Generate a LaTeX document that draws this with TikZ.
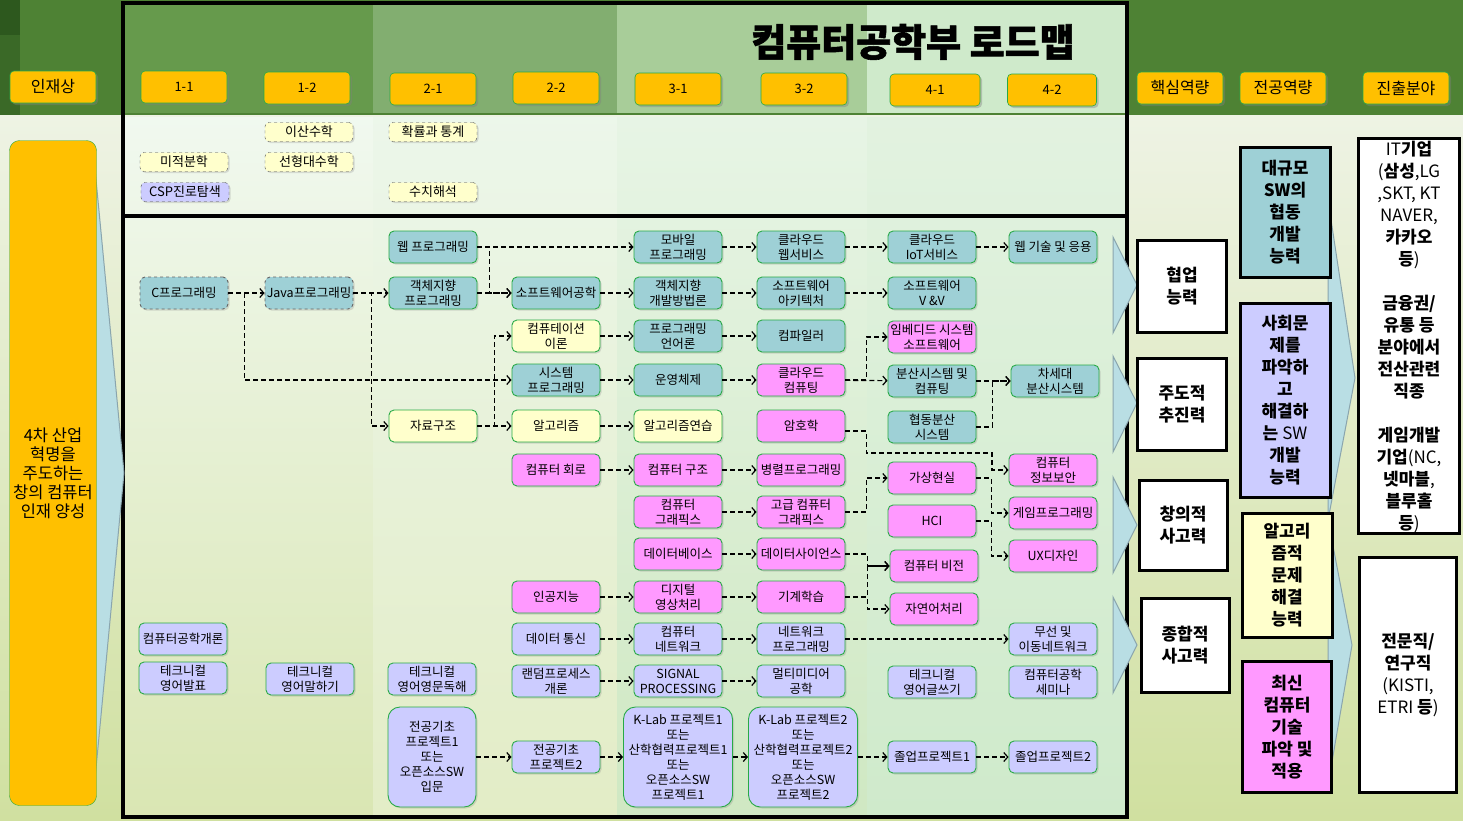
\documentclass[tikz,border=0pt]{standalone}
\usepackage{fontspec}
\setmainfont{Noto Sans CJK KR}
\newfontfamily\heavyfont{Noto Sans CJK KR}[BoldFeatures={FakeBold=1.5}]
\usepackage{xcolor}
\definecolor{hdrgreen}{RGB}{78,130,52}
\definecolor{hdrdark}{RGB}{45,88,30}
\definecolor{yrone}{RGB}{102,154,76}
\definecolor{yrtwo}{RGB}{130,174,112}
\definecolor{yrthree}{RGB}{168,205,153}
\definecolor{yrfour}{RGB}{207,234,203}
\definecolor{bodytop}{RGB}{238,243,228}
\definecolor{bodybot}{RGB}{208,224,160}
\definecolor{labelorange}{RGB}{255,192,0}
\definecolor{boxgreen}{RGB}{40,170,70}
\definecolor{crsteal}{RGB}{158,208,214}
\definecolor{crspink}{RGB}{255,153,255}
\definecolor{crslav}{RGB}{204,204,255}
\definecolor{crsyellow}{RGB}{255,255,204}
\definecolor{chevblue}{RGB}{185,222,228}
\definecolor{chevedge}{RGB}{138,165,173}
\usepackage{tikz}
\usetikzlibrary{arrows.meta, positioning, shadows}
\newcommand{\bk}[1]{{\bfseries #1}}

\begin{document}
\begin{tikzpicture}[x=1pt, y=-1pt,
    hdr/.style={fill=labelorange, draw=boxgreen, line width=0.6pt, rounded corners=4pt,
        minimum width=86pt, minimum height=32pt, font=\fontsize{13}{14}\selectfont,
        drop shadow={opacity=0.4, shadow xshift=2pt, shadow yshift=-2pt}},
    hdrbig/.style={hdr, font=\fontsize{16}{18}\selectfont},
    crs/.style={draw=boxgreen, line width=0.9pt, rounded corners=5pt, minimum width=88pt,
        minimum height=32pt, inner sep=0.5pt, align=center, font=\fontsize{12.5}{15}\selectfont,
        drop shadow={opacity=0.25, shadow xshift=1.5pt, shadow yshift=-1.5pt}},
    tealcrs/.style={crs, fill=crsteal},
    pinkcrs/.style={crs, fill=crspink},
    lavcrs/.style={crs, fill=crslav},
    yelcrs/.style={crs, fill=crsyellow},
    dashcrs/.style={tealcrs, draw=black!60, dashed},
    tallcrs/.style={lavcrs, minimum height=100pt, rounded corners=12pt},
    mathcrs/.style={draw=black!70, dashed, fill=crsyellow, rounded corners=4pt, minimum width=88pt,
        minimum height=19pt, inner sep=1pt, font=\fontsize{13}{14}\selectfont,
        drop shadow={opacity=0.25, shadow xshift=1.5pt, shadow yshift=-1.5pt}},
    capbox/.style={draw=black, line width=3pt, align=center, inner sep=0pt,
        font=\fontsize{17}{22}\selectfont\bfseries},
    chev/.style={fill=chevblue, draw=chevedge, line width=1pt},
    link/.style={draw=black, line width=1.2pt, dash pattern=on 5pt off 3pt,
        -{Straight Barb[length=4pt, width=9pt, line width=1.2pt]}}]
    \useasboundingbox (0,0) rectangle (1463,820);

    % background
    \fill[hdrgreen] (0,0) rectangle (1463,115);
    \fill[hdrdark] (0,0) rectangle (20,35);
    \fill[hdrdark!60!hdrgreen] (0,35) rectangle (20,115);
    \shade[top color=bodytop, bottom color=bodybot] (0,115) rectangle (1463,820);
    \fill[yrone] (123,3) rectangle (373,113);
    \fill[yrtwo] (373,3) rectangle (617,113);
    \fill[yrthree] (617,3) rectangle (867,113);
    \fill[yrfour] (867,3) rectangle (1127,113);
    \shade[top color=yrfour!30!white, bottom color=bodybot!80!white] (123,117) rectangle (373,817);
    \shade[top color=yrfour!40!white, bottom color=bodybot!60!white] (373,117) rectangle (617,817);
    \shade[top color=yrfour!50!white, bottom color=yrfour!80!bodybot] (617,117) rectangle (867,817);
    \shade[top color=yrfour!60!white, bottom color=yrfour] (867,117) rectangle (1127,817);

    % frame
    \draw[line width=3.2pt] (123,3) rectangle (1127,817);
    \draw[line width=3.2pt] (123,216) -- (1127,216);

    % chevrons
    \draw[chev] (93,148) -- (124,473) -- (93,800) -- cycle;
    \draw[chev] (1113,237) -- (1137,285) -- (1113,333) -- cycle;
    \draw[chev] (1113,356) -- (1137,403) -- (1113,452) -- cycle;
    \draw[chev] (1113,477) -- (1137,525) -- (1113,573) -- cycle;
    \draw[chev] (1113,597) -- (1137,645) -- (1113,693) -- cycle;
    \draw[chev] (1328,200) -- (1355,378) -- (1328,520) -- cycle;
    \draw[chev] (1328,520) -- (1352,645) -- (1328,785) -- cycle;

    % title and header labels
    \node[font=\fontsize{38}{42}\heavyfont\bfseries] (title) at (913,42) {컴퓨터공학부 로드맵};
    \node[hdrbig] (talent) at (53,87) {인재상};
    \node[hdr] (y11) at (184,87) {1-1};
    \node[hdr] (y12) at (307,88) {1-2};
    \node[hdr] (y21) at (433,89) {2-1};
    \node[hdr] (y22) at (556,88) {2-2};
    \node[hdr] (y31) at (678,89) {3-1};
    \node[hdr] (y32) at (804,89) {3-2};
    \node[hdr, minimum width=90pt] (y41) at (935,90) {4-1};
    \node[hdr, minimum width=89pt] (y42) at (1052,90) {4-2};
    \node[hdrbig] (corecap) at (1180,88) {핵심역량};
    \node[hdrbig] (majorcap) at (1283,88) {전공역량};
    \node[hdrbig] (career) at (1406,88) {진출분야};

    % goal
    \node[fill=labelorange, draw=boxgreen, rounded corners=10pt, minimum width=87pt,
        minimum height=665pt, align=center, font=\fontsize{16.5}{19}\selectfont] (goal) at (53,473)
        {4차 산업\\혁명을\\주도하는\\창의 컴퓨터\\인재 양성};

    % math courses
    \node[mathcrs] (dscmath) at (309,132) {이산수학};
    \node[mathcrs] (prob) at (433,132) {확률과 통계};
    \node[mathcrs] (calculus) at (184,162) {미적분학};
    \node[mathcrs] (linalg) at (309,162) {선형대수학};
    \node[mathcrs, fill=crslav] (csp) at (185,192) {CSP진로탐색};
    \node[mathcrs] (numan) at (433,192) {수치해석};

    % year 1
    \node[dashcrs] (cprog) at (184,293) {C프로그래밍};
    \node[dashcrs] (java) at (309,293) {Java프로그래밍};
    \node[lavcrs] (intro) at (183,639) {컴퓨터공학개론};
    \node[lavcrs] (engpres) at (183,678) {테크니컬\\영어발표};
    \node[lavcrs] (engspeak) at (310,679) {테크니컬\\영어말하기};

    % year 2
    \node[tealcrs] (webprog) at (433,247) {웹 프로그래밍};
    \node[tealcrs] (oop) at (433,293) {객체지향\\프로그래밍};
    \node[yelcrs] (ds) at (433,426) {자료구조};
    \node[lavcrs] (engread) at (432,679) {테크니컬\\영어영문독해};
    \node[tallcrs] (proj1) at (432,757) {전공기초\\프로젝트1\\또는\\오픈소스SW\\입문};
    \node[tealcrs] (swe) at (556,293) {소프트웨어공학};
    \node[yelcrs] (comptheory) at (556,336) {컴퓨테이션\\이론};
    \node[tealcrs] (sysprog) at (556,380) {시스템\\프로그래밍};
    \node[yelcrs] (algo) at (556,426) {알고리즘};
    \node[pinkcrs] (circuit) at (556,470) {컴퓨터 회로};
    \node[pinkcrs] (ai) at (556,597) {인공지능};
    \node[lavcrs] (datacom) at (556,639) {데이터 통신};
    \node[lavcrs] (random) at (556,681) {랜덤프로세스\\개론};
    \node[lavcrs] (proj2) at (556,757) {전공기초\\프로젝트2};

    % year 3
    \node[tealcrs] (mobile) at (678,247) {모바일\\프로그래밍};
    \node[tealcrs] (oodm) at (678,293) {객체지향\\개발방법론};
    \node[tealcrs] (proglang) at (678,336) {프로그래밍\\언어론};
    \node[tealcrs] (os) at (678,380) {운영체제};
    \node[yelcrs] (algopr) at (678,426) {알고리즘연습};
    \node[pinkcrs] (arch) at (678,470) {컴퓨터 구조};
    \node[pinkcrs] (graphics) at (678,512) {컴퓨터\\그래픽스};
    \node[pinkcrs] (db) at (678,554) {데이터베이스};
    \node[pinkcrs] (dip) at (678,597) {디지털\\영상처리};
    \node[lavcrs] (network) at (678,639) {컴퓨터\\네트워크};
    \node[lavcrs] (signal) at (678,681) {SIGNAL\\PROCESSING};
    \node[tallcrs, minimum width=109pt] (klab1) at (678,757)
        {K-Lab 프로젝트1\\또는\\산학협력프로젝트1\\또는\\오픈소스SW\\프로젝트1};
    \node[tealcrs] (cloudweb) at (801,247) {클라우드\\웹서비스};
    \node[tealcrs] (swarch) at (801,293) {소프트웨어\\아키텍처};
    \node[tealcrs] (compiler) at (801,336) {컴파일러};
    \node[pinkcrs] (cloudcomp) at (801,380) {클라우드\\컴퓨팅};
    \node[pinkcrs] (crypto) at (801,426) {암호학};
    \node[pinkcrs] (parallel) at (801,470) {병렬프로그래밍};
    \node[pinkcrs] (advgraph) at (801,512) {고급 컴퓨터\\그래픽스};
    \node[pinkcrs] (datasci) at (801,554) {데이터사이언스};
    \node[pinkcrs] (ml) at (801,597) {기계학습};
    \node[lavcrs] (netprog) at (801,639) {네트워크\\프로그래밍};
    \node[lavcrs] (multimedia) at (801,681) {멀티미디어\\공학};
    \node[tallcrs, minimum width=109pt] (klab2) at (803,757)
        {K-Lab 프로젝트2\\또는\\산학협력프로젝트2\\또는\\오픈소스SW\\프로젝트2};

    % year 4
    \node[tealcrs] (cloudiot) at (932,247) {클라우드\\IoT서비스};
    \node[tealcrs] (swvv) at (932,293) {소프트웨어\\V \&V};
    \node[pinkcrs] (embed) at (932,337) {임베디드 시스템\\소프트웨어};
    \node[tealcrs] (distsys) at (932,381) {분산시스템 및\\컴퓨팅};
    \node[tealcrs] (coopdist) at (932,427) {협동분산\\시스템};
    \node[pinkcrs] (vr) at (932,478) {가상현실};
    \node[pinkcrs] (hci) at (932,521) {HCI};
    \node[pinkcrs] (vision) at (934,566) {컴퓨터 비전};
    \node[pinkcrs] (nlp) at (934,609) {자연어처리};
    \node[lavcrs] (engwrite) at (932,682) {테크니컬\\영어글쓰기};
    \node[lavcrs] (grad1) at (932,757) {졸업프로젝트1};
    \node[tealcrs] (webtech) at (1053,247) {웹 기술 및 응용};
    \node[tealcrs] (nextdist) at (1055,381) {차세대\\분산시스템};
    \node[pinkcrs] (infosec) at (1053,470) {컴퓨터\\정보보안};
    \node[pinkcrs] (game) at (1053,513) {게임프로그래밍};
    \node[pinkcrs] (ux) at (1053,556) {UX디자인};
    \node[lavcrs] (wireless) at (1053,639) {무선 및\\이동네트워크};
    \node[lavcrs] (seminar) at (1053,682) {컴퓨터공학\\세미나};
    \node[lavcrs] (grad2) at (1053,757) {졸업프로젝트2};

    % prerequisites
    \draw[link] (cprog) -- (java);
    \draw[link] (cprog.east) -- ++(16,0) |- (sysprog.west);
    \draw[link] (java) -- (oop);
    \draw[link] (java.east) -- ++(18,0) |- (ds.west);
    \draw[link] (webprog) -- (mobile);
    \draw[link] (webprog.east) -- ++(12,0) |- (swe.west);
    \draw[link] (oop) -- (swe);
    \draw[link] (ds) -- (algo);
    \draw[link] (ds.east) -- ++(17,0) |- (comptheory.west);
    \draw[link] (mobile) -- (cloudweb);
    \draw[link] (cloudweb) -- (cloudiot);
    \draw[link] (cloudiot) -- (webtech);
    \draw[link] (swe) -- (oodm);
    \draw[link] (oodm) -- (swarch);
    \draw[link] (swarch) -- (swvv);
    \draw[link] (comptheory) -- (proglang);
    \draw[link] (proglang) -- (compiler);
    \draw[link] (sysprog) -- (os);
    \draw[link] (os) -- (cloudcomp);
    \draw[link] (cloudcomp) -- (distsys);
    \draw[link] (cloudcomp.east) -- ++(21,0) |- (embed.west);
    \draw[link] (distsys) -- (nextdist);
    \draw[link] (coopdist.east) -- ++(16,0) |- (nextdist.west);
    \draw[link] (algo) -- (algopr);
    \draw[link] ([yshift=-5pt]crypto.east) -- ++(21,0) |- (992,453) |- (infosec.west);
    \draw[link] (circuit) -- (arch);
    \draw[link] (arch) -- (parallel);
    \draw[link] (graphics) -- (advgraph);
    \draw[link] (advgraph.east) -- ++(21,0) |- (vr.west);
    \draw[link] (vr.east) -- ++(15,0) |- (game.west);
    \draw[link] (hci.east) -- ++(15,0) |- (ux.west);
    \draw[link] (db) -- (datasci);
    \draw[link] (datasci.east) -- ++(22,0) |- (vision.west);
    \draw[link] (ai) -- (dip);
    \draw[link] (dip) -- (ml);
    \draw[link] (ml.east) -- ++(22,0) |- (vision.west);
    \draw[link] (ml.east) -- ++(22,0) |- (nlp.west);
    \draw[link] (datacom) -- (network);
    \draw[link] (network) -- (netprog);
    \draw[link] (netprog) -- (wireless);
    \draw[link] (random) -- (signal);
    \draw[link] (signal) -- (multimedia);
    \draw[link] (proj1) -- (proj2);
    \draw[link] (proj2) -- (klab1);
    \draw[link] (klab1) -- (klab2);
    \draw[link] (klab2) -- (grad1);
    \draw[link] (grad1) -- (grad2);

    % core competences
    \node[capbox, fill=white, minimum width=89pt, minimum height=92pt] (teamwork) at (1182,286) {협업\\능력};
    \node[capbox, fill=white, minimum width=89pt, minimum height=92pt] (drive) at (1182,404) {주도적\\추진력};
    \node[capbox, fill=white, minimum width=88pt, minimum height=90pt] (creative) at (1183,525) {창의적\\사고력};
    \node[capbox, fill=white, minimum width=88pt, minimum height=94pt] (holistic) at (1185,645) {종합적\\사고력};

    % major competences
    \node[capbox, fill=crsteal, minimum width=90pt, minimum height=130pt] (largesw) at (1285,212)
        {대규모\\SW\bk{의}\\협동\\개발\\능력};
    \node[capbox, fill=crslav, minimum width=90pt, minimum height=194pt] (social) at (1285,400)
        {사회문\\제를\\파악하\\고\\해결하\\는 {\mdseries SW}\\개발\\능력};
    \node[capbox, fill=crsyellow, minimum width=90pt, minimum height=124pt] (algosolve) at (1287,575)
        {알고리\\즘적\\문제\\해결\\능력};
    \node[capbox, fill=crspink, minimum width=89pt, minimum height=131pt] (newtech) at (1287,727)
        {최신\\컴퓨터\\기술\\파악 및\\적용};

    % career fields
    \draw[capbox, fill=white] (1358,138) rectangle (1459,533);
    \node[align=center, font=\fontsize{17}{22}\selectfont] (industry) at (1409,337)
        {IT\bk{기업}\\(\bk{삼성},LG\\,SKT, KT\\NAVER,\\\bk{카카오}\\\bk{등})\\[22pt]
        \bk{금융권/}\\\bk{유통 등}\\\bk{분야에서}\\\bk{전산관련}\\\bk{직종}\\[22pt]
        \bk{게임개발}\\\bk{기업}(NC,\\\bk{넷마블},\\\bk{블루홀}\\\bk{등})};
    \node[capbox, fill=white, minimum width=97pt, minimum height=235pt, font=\fontsize{17}{22}\selectfont] (research)
        at (1408,675) {\bk{전문직/}\\\bk{연구직}\\(KISTI,\\ETRI \bk{등})};
\end{tikzpicture}
\end{document}
